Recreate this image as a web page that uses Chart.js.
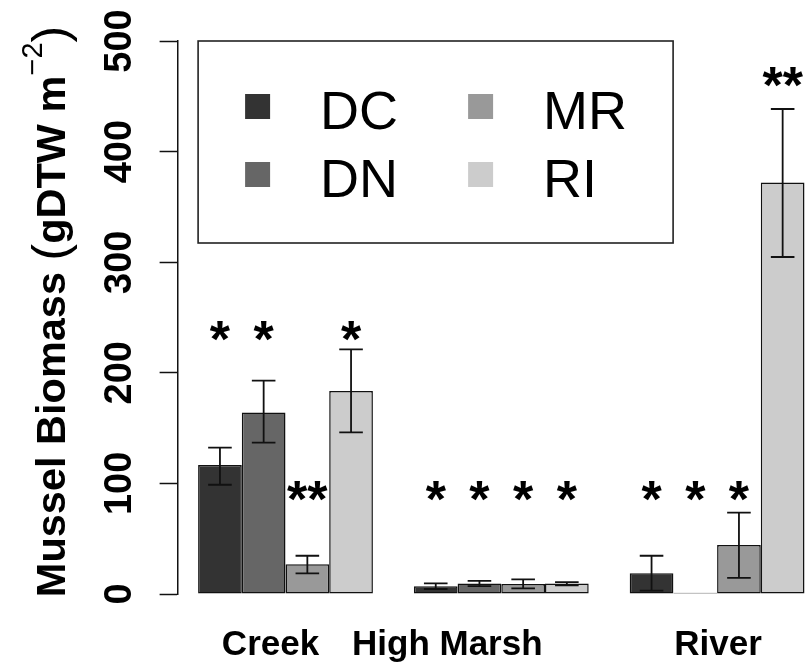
<!DOCTYPE html>
<html>
<head>
<meta charset="utf-8">
<script src="https://cdn.jsdelivr.net/npm/chart.js@4.4.0/dist/chart.umd.min.js"></script>
<style>
  html, body { margin: 0; padding: 0; background: #fff; overflow: hidden; width: 805px; height: 664px; }
  canvas { display: block; }
</style>
</head>
<body>
<canvas id="chart" width="831" height="664"></canvas>
<script>
  // ---- data ----
  const habitats   = ['Creek', 'High Marsh', 'River'];
  const sites      = ['DC', 'DN', 'MR', 'RI'];
  const siteColors = ['#333333', '#666666', '#999999', '#cccccc'];

  // mean biomass per site, one value per habitat
  const meanDC = [116.6, 7.0, 18.7];
  const meanDN = [164.0, 9.6, 1.2];
  const meanMR = [26.8, 9.0, 44.3];
  const meanRI = [183.5, 9.6, 372.0];

  // error bar ends (lower / upper)
  const lowDC  = [98.8, 4.5, 3.0];
  const highDC = [132.3, 9.6, 34.6];
  const lowDN  = [136.8, 7.2, null];
  const highDN = [192.9, 11.8, null];
  const lowMR  = [18.7, 5.1, 14.5];
  const highMR = [34.6, 13.3, 73.5];
  const lowRI  = [146.2, 7.8, 304.7];
  const highRI = [221.2, 10.8, 438.5];

  // significance stars and the height they sit at
  const starsDC = ['*', '*', '*'];
  const starsDN = ['*', '*', '*'];
  const starsMR = ['**', '*', '*'];
  const starsRI = ['*', '*', '**'];
  const starYDC = [241.5, 96, 96];
  const starYDN = [241.5, 96, 96];
  const starYMR = [96, 96, 96];
  const starYRI = [241.5, 96, 471];

  const yTicks = [0, 100, 200, 300, 400, 500];

  const FONT = '"Liberation Sans", Arial, Helvetica, sans-serif';

  const means = [meanDC, meanDN, meanMR, meanRI];
  const lows  = [lowDC, lowDN, lowMR, lowRI];
  const highs = [highDC, highDN, highMR, highRI];
  const stars = [starsDC, starsDN, starsMR, starsRI];
  const starY = [starYDC, starYDN, starYMR, starYRI];

  const datasets = sites.map((s, i) => ({
    label: s,
    data: means[i],
    backgroundColor: siteColors[i],
    borderColor: '#111',
    borderWidth: 1.5,
    borderSkipped: false,
    categoryPercentage: 0.81,
    barPercentage: 1.0,
    errLow: lows[i],
    errHigh: highs[i],
    stars: stars[i],
    starY: starY[i]
  }));

  /* ---------- error bars + stars ---------- */
  const errorBarPlugin = {
    id: 'errorBars',
    afterDatasetsDraw(chart) {
      const ctx = chart.ctx;
      const y = chart.scales.y;
      ctx.save();
      ctx.strokeStyle = '#111';
      ctx.lineWidth = 1.8;
      chart.data.datasets.forEach((ds, di) => {
        const meta = chart.getDatasetMeta(di);
        meta.data.forEach((bar, j) => {
          const lo = ds.errLow[j], hi = ds.errHigh[j];
          if (lo == null || hi == null) return;
          const yl = y.getPixelForValue(lo), yh = y.getPixelForValue(hi);
          const half = bar.width * 0.27;
          ctx.beginPath();
          ctx.moveTo(bar.x, yl); ctx.lineTo(bar.x, yh);
          ctx.moveTo(bar.x - half, yl); ctx.lineTo(bar.x + half, yl);
          ctx.moveTo(bar.x - half, yh); ctx.lineTo(bar.x + half, yh);
          ctx.stroke();
        });
      });
      // stars
      const fs = 52;
      ctx.fillStyle = '#000';
      ctx.font = 'bold ' + fs + 'px ' + FONT;
      ctx.textAlign = 'center';
      ctx.textBaseline = 'alphabetic';
      chart.data.datasets.forEach((ds, di) => {
        const meta = chart.getDatasetMeta(di);
        meta.data.forEach((bar, j) => {
          const cy = y.getPixelForValue(ds.starY[j]);
          ctx.fillText(ds.stars[j], bar.x, cy + fs * 0.57);
        });
      });
      ctx.restore();
    }
  };

  /* ---------- legend box ---------- */
  const legendPlugin = {
    id: 'boxLegend',
    afterDraw(chart) {
      const ctx = chart.ctx;
      const a = chart.chartArea;
      const bx = a.left + 20.5, by = a.top, bw = 475, bh = 202;
      ctx.save();
      ctx.strokeStyle = '#222';
      ctx.lineWidth = 1.6;
      ctx.strokeRect(bx, by, bw, bh);
      ctx.font = '54px ' + FONT;
      ctx.textAlign = 'left';
      ctx.textBaseline = 'alphabetic';
      chart.data.datasets.forEach((ds, i) => {
        const col = Math.floor(i / 2), row = i % 2;
        const sx = bx + 47 + col * 223;
        const sy = by + 53 + row * 68;
        ctx.fillStyle = ds.backgroundColor;
        ctx.fillRect(sx, sy, 25, 25);
        ctx.fillStyle = '#000';
        ctx.fillText(ds.label, sx + 75, sy + 35);
      });
      ctx.restore();
    }
  };

  /* ---------- x category names (not centred under the groups in the original) ---------- */
  const xNamesPlugin = {
    id: 'xNames',
    afterDraw(chart) {
      const ctx = chart.ctx;
      const xs = chart.scales.x;
      const shift = [-15, -54, 1];
      ctx.save();
      ctx.fillStyle = '#000';
      ctx.font = 'bold 35px ' + FONT;
      ctx.textAlign = 'center';
      ctx.textBaseline = 'alphabetic';
      chart.data.labels.forEach((lab, i) => {
        ctx.fillText(lab, xs.getPixelForValue(i) + shift[i], chart.chartArea.bottom + 61);
      });
      ctx.restore();
    }
  };

  /* ---------- y axis title with superscript ---------- */
  const yTitlePlugin = {
    id: 'yTitle',
    afterDraw(chart) {
      const ctx = chart.ctx;
      const a = chart.chartArea;
      const main = 'bold 41.5px ' + FONT;
      const paren = '50px ' + FONT;
      const sup = '29px ' + FONT;
      const parts = [
        { t: 'Mussel Biomass ', f: main, dy: 0 },
        { t: '(', f: paren, dy: 2 },
        { t: 'gDTW m', f: main, dy: 0 },
        { t: '\u22122', f: sup, dy: -23 },
        { t: ')', f: paren, dy: 2 }
      ];
      ctx.save();
      let total = 0;
      parts.forEach(p => { ctx.font = p.f; p.w = ctx.measureText(p.t).width; total += p.w; });
      const cy = (a.top + a.bottom) / 2 - 6;
      ctx.translate(65, cy + total / 2);
      ctx.rotate(-Math.PI / 2);
      ctx.fillStyle = '#000';
      ctx.textBaseline = 'alphabetic';
      ctx.textAlign = 'left';
      let x = 0;
      parts.forEach(p => { ctx.font = p.f; ctx.fillText(p.t, x, p.dy); x += p.w; });
      ctx.restore();
    }
  };

  new Chart(document.getElementById('chart').getContext('2d'), {
    type: 'bar',
    data: { labels: habitats, datasets: datasets },
    options: {
      responsive: false,
      animation: false,
      layout: { padding: { left: 0, right: 6, top: 41, bottom: 0 } },
      plugins: { legend: { display: false }, tooltip: { enabled: false } },
      scales: {
        x: {
          grid: { display: false },
          border: { display: false },
          ticks: { display: false },
          afterFit: s => { s.height = 70; }
        },
        y: {
          min: 0, max: 500,
          afterBuildTicks: s => { s.ticks = yTicks.map(v => ({ value: v })); },
          ticks: {
            color: '#000', minRotation: 90, maxRotation: 90, crossAlign: 'center', padding: 7,
            font: { family: FONT, size: 38, weight: 'bold' }
          },
          grid: { drawOnChartArea: false, tickLength: 18, tickColor: '#111', tickWidth: 1.5 },
          border: { color: '#111', width: 1.5 },
          afterFit: s => { s.width = 177.6; }
        }
      }
    },
    plugins: [errorBarPlugin, legendPlugin, xNamesPlugin, yTitlePlugin]
  });
</script>
</body>
</html>
